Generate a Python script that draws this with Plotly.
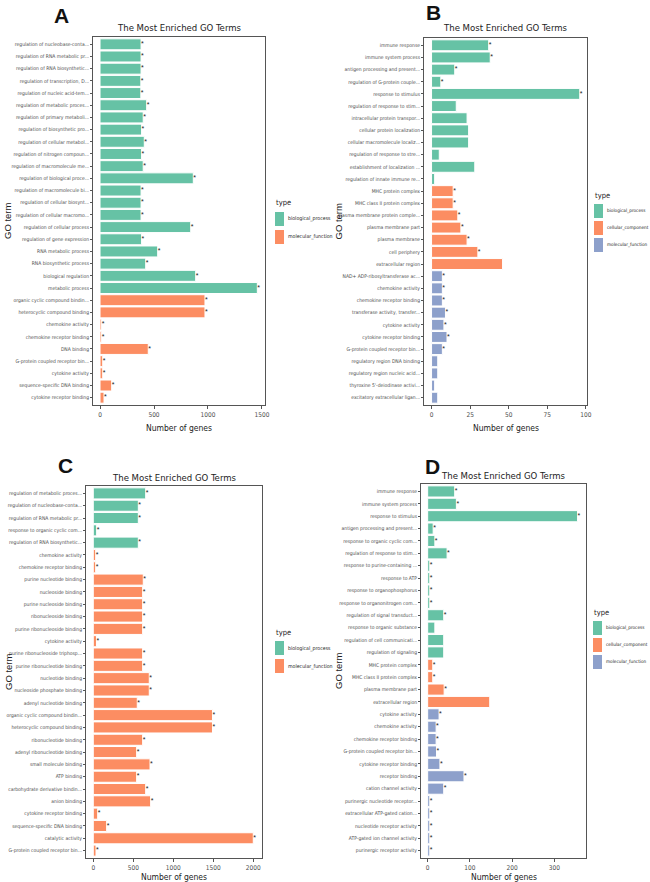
import plotly.graph_objects as go

W, H = 650, 882

# ---------------- data ----------------
a_terms = ["regulation of nucleobase-conta...", "regulation of RNA metabolic pr...", "regulation of RNA biosynthetic...",
           "regulation of transcription, D...", "regulation of nucleic acid-tem...", "regulation of metabolic proces...",
           "regulation of primary metaboli...", "regulation of biosynthetic pro...", "regulation of cellular metabol...",
           "regulation of nitrogen compoun...", "regulation of macromolecule me...", "regulation of biological proce...",
           "regulation of macromolecule bi...", "regulation of cellular biosynt...", "regulation of cellular macromo...",
           "regulation of cellular process", "regulation of gene expression", "RNA metabolic process",
           "RNA biosynthetic process", "biological regulation", "metabolic process",
           "organic cyclic compound bindin...", "heterocyclic compound binding", "chemokine activity",
           "chemokine receptor binding", "DNA binding", "G-protein coupled receptor bin...",
           "cytokine activity", "sequence-specific DNA binding", "cytokine receptor binding"]
a_counts = [380, 380, 380, 378, 378, 432, 400, 385, 410, 385, 400, 864, 380, 380, 380,
            840, 385, 534, 423, 886, 1457, 972, 972, 15, 15, 447, 25, 25, 108, 37]
a_types = ["biological_process"] * 21 + ["molecular_function"] * 9
a_star = [1] * 30

b_terms = ["immune response", "immune system process", "antigen processing and present...",
           "regulation of G-protein couple...", "response to stimulus", "regulation of response to stim...",
           "intracellular protein transpor...", "cellular protein localization", "cellular macromolecule localiz...",
           "regulation of response to stre...", "establishment of localization ...", "regulation of innate immune re...",
           "MHC protein complex", "MHC class II protein complex", "plasma membrane protein comple...",
           "plasma membrane part", "plasma membrane", "cell periphery", "extracellular region",
           "NAD+ ADP-ribosyltransferase ac...", "chemokine activity", "chemokine receptor binding",
           "transferase activity, transfer...", "cytokine activity", "cytokine receptor binding",
           "G-protein coupled receptor bin...", "regulatory region DNA binding", "regulatory region nucleic acid...",
           "thyroxine 5'-deiodinase activi...", "excitatory extracellular ligan..."]
b_counts = [37, 38, 15, 6, 96, 16, 23, 24, 24, 5, 28, 2,
            14, 14, 17, 19, 23, 30, 46,
            7, 7, 7, 9, 8, 10, 7, 4, 4, 2, 4]
b_types = ["biological_process"] * 12 + ["cellular_component"] * 7 + ["molecular_function"] * 11
b_star = [1, 1, 1, 1, 1, 0, 0, 0, 0, 0, 0, 0,
          1, 1, 1, 1, 1, 1, 0,
          1, 1, 1, 1, 1, 1, 1, 0, 0, 0, 0]

c_terms = ["regulation of metabolic proces...", "regulation of nucleobase-conta...", "regulation of RNA metabolic pr...",
           "response to organic cyclic com...", "regulation of RNA biosynthetic...",
           "chemokine activity", "chemokine receptor binding", "purine nucleotide binding", "nucleoside binding",
           "purine nucleoside binding", "ribonucleoside binding", "purine ribonucleoside binding", "cytokine activity",
           "purine ribonucleoside triphosp...", "purine ribonucleotide binding", "nucleotide binding",
           "nucleoside phosphate binding", "adenyl nucleotide binding", "organic cyclic compound bindin...",
           "heterocyclic compound binding", "ribonucleotide binding", "adenyl ribonucleotide binding",
           "small molecule binding", "ATP binding", "carbohydrate derivative bindin...", "anion binding",
           "cytokine receptor binding", "sequence-specific DNA binding", "catalytic activity",
           "G-protein coupled receptor bin..."]
c_counts = [655, 563, 563, 42, 563, 30, 30, 625, 617, 617, 617, 617, 40, 617, 617, 700,
            700, 550, 1490, 1490, 617, 542, 709, 542, 655, 717, 55, 167, 2000, 34]
c_types = ["biological_process"] * 5 + ["molecular_function"] * 25
c_star = [1] * 30

d_terms = ["immune response", "immune system process", "response to stimulus", "antigen processing and present...",
           "response to organic cyclic com...", "regulation of response to stim...", "response to purine-containing ...",
           "response to ATP", "response to organophosphorus", "response to organonitrogen com...",
           "regulation of signal transduct...", "response to organic substance", "regulation of cell communicati...",
           "regulation of signaling", "MHC protein complex", "MHC class II protein complex", "plasma membrane part",
           "extracellular region", "cytokine activity", "chemokine activity", "chemokine receptor binding",
           "G-protein coupled receptor bin...", "cytokine receptor binding", "receptor binding",
           "cation channel activity", "purinergic nucleotide receptor...", "extracellular ATP-gated cation...",
           "nucleotide receptor activity", "ATP-gated ion channel activity", "purinergic receptor activity"]
d_counts = [64, 68, 355, 13, 17, 46, 5, 5, 5, 5, 38, 17, 38, 38,
            12, 12, 39, 147,
            27, 20, 20, 21, 29, 86, 38, 5, 5, 5, 5, 5]
d_types = ["biological_process"] * 14 + ["cellular_component"] * 4 + ["molecular_function"] * 12
d_star = [1] * 11 + [0, 0, 0] + [1, 1, 1, 0] + [1] * 12

a_ticks = [0, 500, 1000, 1500]
b_ticks = [0, 25, 50, 75, 100]
c_ticks = [0, 500, 1000, 1500, 2000]
d_ticks = [0, 100, 200, 300]

# ---------------- styling ----------------
SET2 = ["#66C2A5", "#FC8D62", "#8DA0CB"]
NARROW = "Liberation Sans Narrow, DejaVu Sans Condensed, Arial Narrow, sans-serif"
TXT = "#4D4D4D"
FRAME = "#555555"


def dx(px):
    return px / W


def dy(py):
    return 1 - py / H


panels = [
    dict(terms=a_terms, counts=a_counts, types=a_types, star=a_star, ticks=a_ticks,
         frame=(93, 265, 37, 405), xr=[-65, 1528], leg=(275, 203), legstep=18, legfs=5.2,
         letter=(61, 15), gox=8, titley=27, xtitley=428),
    dict(terms=b_terms, counts=b_counts, types=b_types, star=b_star, ticks=b_ticks,
         frame=(424, 587, 38, 405), xr=[-4.9, 100.7], leg=(594, 195), legstep=17, legfs=4.7,
         letter=(433, 13), gox=338, titley=27, xtitley=428),
    dict(terms=c_terms, counts=c_counts, types=c_types, star=c_star, ticks=c_ticks,
         frame=(86, 262, 486, 858), xr=[-91, 2109], leg=(275, 632), legstep=18, legfs=5.2,
         letter=(65, 465), gox=8, titley=477, xtitley=877),
    dict(terms=d_terms, counts=d_counts, types=d_types, star=d_star, ticks=d_ticks,
         frame=(421, 586, 484, 858), xr=[-15.8, 375], leg=(593, 612), legstep=17, legfs=4.7,
         letter=(432, 466), gox=338, titley=475, xtitley=877),
]
letters = ["A", "B", "C", "D"]

fig = go.Figure()
annotations = []
shapes = []
layout = {}

for i, p in enumerate(panels):
    k = "" if i == 0 else str(i + 1)
    xa, ya = "x" + k, "y" + k
    utypes = list(dict.fromkeys(p["types"]))
    for j, t in enumerate(utypes):
        ys = [term for term, tt in zip(p["terms"], p["types"]) if tt == t]
        xs = [c for c, tt in zip(p["counts"], p["types"]) if tt == t]
        fig.add_trace(go.Bar(x=xs, y=ys, orientation="h", name=t, width=0.9,
                             marker=dict(color=SET2[j], line=dict(color="white", width=1)),
                             xaxis=xa, yaxis=ya, showlegend=False, hoverinfo="x+y"))
    sx = [c for c, s in zip(p["counts"], p["star"]) if s]
    sy = [term for term, s in zip(p["terms"], p["star"]) if s]
    fig.add_trace(go.Scatter(x=sx, y=sy, mode="text", text=["*"] * len(sx), textposition="middle right",
                             textfont=dict(size=7, color="#222", family="Liberation Sans"),
                             xaxis=xa, yaxis=ya, showlegend=False, hoverinfo="skip"))
    l, r, t, b = p["frame"]
    n = len(p["terms"])
    layout["xaxis" + k] = dict(domain=[dx(l), dx(r)], anchor=ya, range=p["xr"], tickvals=p["ticks"],
                               ticktext=[str(v) for v in p["ticks"]], automargin=False,
                               showgrid=False, zeroline=False, showline=True, mirror=True,
                               linecolor=FRAME, linewidth=1, ticks="outside", ticklen=3,
                               tickcolor=FRAME, tickfont=dict(size=6.5, color=TXT, family=NARROW))
    layout["yaxis" + k] = dict(domain=[dy(b), dy(t)], anchor=xa, type="category",
                               categoryorder="array", categoryarray=p["terms"], automargin=False,
                               range=[n - 0.4, -0.6], showgrid=False, zeroline=False,
                               showline=True, mirror=True, linecolor=FRAME, linewidth=1,
                               ticks="outside", ticklen=2, tickcolor=FRAME,
                               tickfont=dict(size=5.0, color=TXT, family=NARROW))
    # manual legend
    lx, ly = p["leg"]
    annotations.append(dict(text="type", x=dx(lx - 1), y=dy(ly), xref="paper", yref="paper", showarrow=False,
                            xanchor="left", yanchor="middle", font=dict(size=7.5, color="#222", family=NARROW)))
    for j, tname in enumerate(utypes):
        cy = ly + 16 + j * p["legstep"]
        shapes.append(dict(type="rect", xref="paper", yref="paper", x0=dx(lx), x1=dx(lx + 9),
                           y0=dy(cy - 7), y1=dy(cy + 7), fillcolor=SET2[j], line=dict(width=0)))
        annotations.append(dict(text=tname, x=dx(lx + 10.5), y=dy(cy), xref="paper", yref="paper", showarrow=False,
                                xanchor="left", yanchor="middle",
                                font=dict(size=p["legfs"], color="#222", family=NARROW)))
    # title
    annotations.append(dict(text="The Most Enriched GO Terms", x=dx((l + r) / 2), y=dy(p["titley"]),
                            xref="paper", yref="paper", showarrow=False, xanchor="center", yanchor="middle",
                            font=dict(size=9.5, color="#222", family=NARROW)))
    # x title
    annotations.append(dict(text="Number of genes", x=dx((l + r) / 2), y=dy(p["xtitley"]),
                            xref="paper", yref="paper", showarrow=False, xanchor="center", yanchor="middle",
                            font=dict(size=8.5, color="#222", family=NARROW)))
    # y title
    annotations.append(dict(text="GO term", x=dx(p["gox"]), y=dy((t + b) / 2), xref="paper", yref="paper",
                            showarrow=False, textangle=-90, xanchor="center", yanchor="middle",
                            font=dict(size=9.5, color="#222", family="Liberation Sans")))
    # letter
    lxp, lyp = p["letter"]
    annotations.append(dict(text="<b>%s</b>" % letters[i], x=dx(lxp), y=dy(lyp), xref="paper", yref="paper",
                            showarrow=False, xanchor="center", yanchor="middle",
                            font=dict(size=21, color="#111", family="Liberation Sans")))

fig.update_layout(template="none", width=W, height=H, margin=dict(l=0, r=0, t=0, b=0, pad=0),
                  barmode="overlay", showlegend=False,
                  plot_bgcolor="white", paper_bgcolor="white", annotations=annotations, shapes=shapes, **layout)

fig.write_html("out.html", config={"displayModeBar": False},
               post_script="document.body.style.margin='0';document.body.style.overflow='hidden';")
